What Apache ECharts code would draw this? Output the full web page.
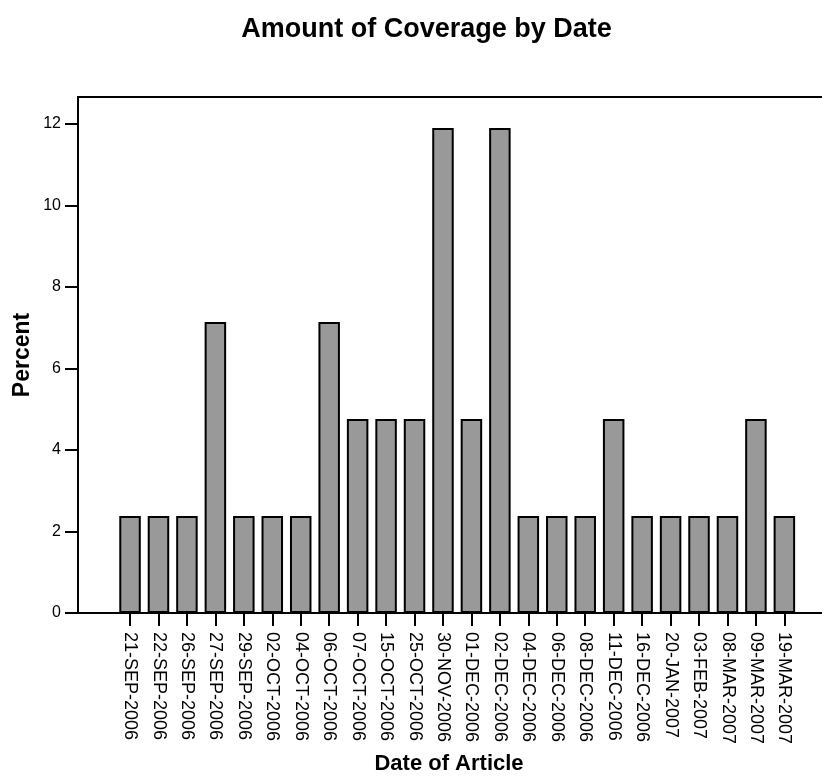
<!DOCTYPE html>
<html>
<head>
<meta charset="utf-8">
<script src="https://cdn.jsdelivr.net/npm/echarts@6/dist/echarts.min.js"></script>
<style>html,body{margin:0;padding:0;background:#fff;}#chart{width:822px;height:777px;}</style>
</head>
<body>
<div id="chart"></div>
<script>
const categories = ['21-SEP-2006','22-SEP-2006','26-SEP-2006','27-SEP-2006','29-SEP-2006','02-OCT-2006','04-OCT-2006','06-OCT-2006','07-OCT-2006','15-OCT-2006','25-OCT-2006','30-NOV-2006','01-DEC-2006','02-DEC-2006','04-DEC-2006','06-DEC-2006','08-DEC-2006','11-DEC-2006','16-DEC-2006','20-JAN-2007','03-FEB-2007','08-MAR-2007','09-MAR-2007','19-MAR-2007'];
const percentValues = [2.38,2.38,2.38,7.14,2.38,2.38,2.38,7.14,4.76,4.76,4.76,11.90,4.76,11.90,2.38,2.38,2.38,4.76,2.38,2.38,2.38,2.38,4.76,2.38];
const yTicks = {min: 0, max: 12, interval: 2};
const titleText = 'Amount of Coverage by Date';
const xName = 'Date of Article';
const yName = 'Percent';

const FONT = 'Liberation Sans, Arial, sans-serif';
const chart = echarts.init(document.getElementById('chart'));
chart.setOption({
  animation: false,
  backgroundColor: '#fff',
  title: {
    text: titleText, left: 421.5, top: 11, textAlign: 'center',
    textStyle: {fontFamily: FONT, fontWeight: 'bold', fontSize: 27, color: '#000'}
  },
  grid: {left: 115.8, right: 23.4, top: 124, bottom: 164, containLabel: false},
  xAxis: {
    type: 'category', data: categories,
    axisLine: {show: true, lineStyle: {color: '#000', width: 2}},
    axisTick: {show: true, alignWithLabel: true, length: 13, lineStyle: {color: '#000', width: 2}},
    axisLabel: {rotate: -90, margin: 19, fontFamily: FONT, fontSize: 18, color: '#000', interval: 0}
  },
  yAxis: {
    type: 'value', min: yTicks.min, max: yTicks.max, interval: yTicks.interval, offset: 37.8,
    axisLine: {show: false},
    axisTick: {show: true, length: 13, lineStyle: {color: '#000', width: 2}},
    axisLabel: {margin: 17, fontFamily: FONT, fontSize: 16, color: '#000'},
    splitLine: {show: false}
  },
  graphic: [
    {type: 'rect', z: 0, shape: {x: 78, y: 97, width: 760, height: 516}, style: {fill: 'none', stroke: '#000', lineWidth: 2}},
    {type: 'text', x: 23, y: 355, rotation: Math.PI / 2, style: {text: yName, font: 'bold 23px ' + FONT, fill: '#000', align: 'center', verticalAlign: 'middle'}},
    {type: 'text', x: 449, y: 764, style: {text: xName, font: 'bold 22px ' + FONT, fill: '#000', align: 'center', verticalAlign: 'middle'}}
  ],
  series: [{
    type: 'bar', data: percentValues, barWidth: 21.5, z: 3,
    itemStyle: {color: '#999999', borderColor: '#000', borderWidth: 2}
  }]
});
</script>
</body>
</html>
